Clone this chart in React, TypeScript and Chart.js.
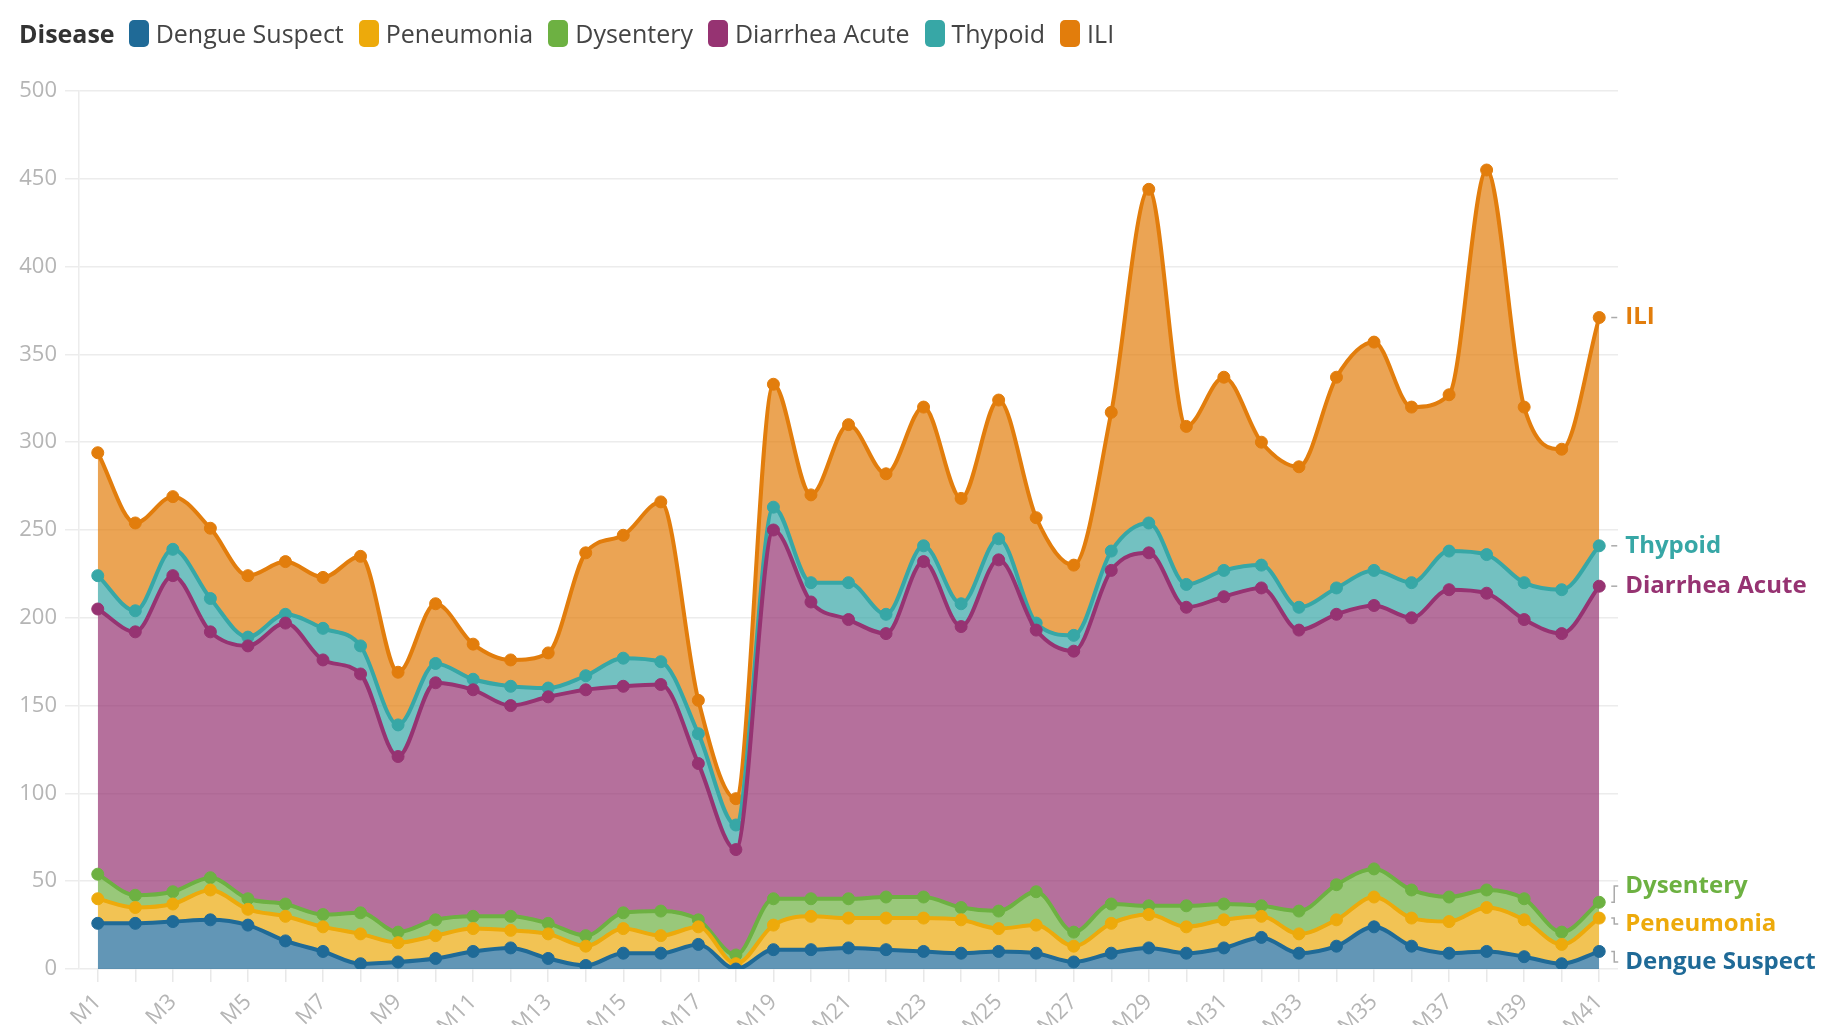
import React, { useEffect, useRef } from "react";
import { Chart, registerables } from "chart.js";

Chart.register(...registerables);

const FONT = "'Open Sans', 'Noto Sans', sans-serif";

const months = [
  "M1", "M2", "M3", "M4", "M5", "M6", "M7", "M8", "M9", "M10",
  "M11", "M12", "M13", "M14", "M15", "M16", "M17", "M18", "M19", "M20",
  "M21", "M22", "M23", "M24", "M25", "M26", "M27", "M28", "M29", "M30",
  "M31", "M32", "M33", "M34", "M35", "M36", "M37", "M38", "M39", "M40", "M41",
];

const dengueSuspect = [26, 26, 27, 28, 25, 16, 10, 3, 4, 6, 10, 12, 6, 2, 9, 9, 14, 0, 11, 11, 12, 11, 10, 9, 10, 9, 4, 9, 12, 9, 12, 18, 9, 13, 24, 13, 9, 10, 7, 3, 10];
const peneumonia = [14, 9, 10, 17, 9, 14, 14, 17, 11, 13, 13, 10, 14, 11, 14, 10, 10, 3, 14, 19, 17, 18, 19, 19, 13, 16, 9, 17, 19, 15, 16, 12, 11, 15, 17, 16, 18, 25, 21, 11, 19];
const dysentery = [14, 7, 7, 7, 6, 7, 7, 12, 6, 9, 7, 8, 6, 6, 9, 14, 4, 5, 15, 10, 11, 12, 12, 7, 10, 19, 8, 11, 5, 12, 9, 6, 13, 20, 16, 16, 14, 10, 12, 7, 9];
const diarrheaAcute = [151, 150, 180, 140, 144, 160, 145, 136, 100, 135, 129, 120, 129, 140, 129, 129, 89, 60, 210, 169, 159, 150, 191, 160, 200, 149, 160, 190, 201, 170, 175, 181, 160, 154, 150, 155, 175, 169, 159, 170, 180];
const thypoid = [19, 12, 15, 19, 5, 5, 18, 16, 18, 11, 6, 11, 5, 8, 16, 13, 17, 14, 13, 11, 21, 11, 9, 13, 12, 4, 9, 11, 17, 13, 15, 13, 13, 15, 20, 20, 22, 22, 21, 25, 23];
const ili = [70, 50, 30, 40, 35, 30, 29, 51, 30, 34, 20, 15, 20, 70, 70, 91, 19, 15, 70, 50, 90, 80, 79, 60, 79, 60, 40, 79, 190, 90, 110, 70, 80, 120, 130, 100, 89, 219, 100, 80, 130];

const seriesNames = ["Dengue Suspect", "Peneumonia", "Dysentery", "Diarrhea Acute", "Thypoid", "ILI"];
const seriesValues = [dengueSuspect, peneumonia, dysentery, diarrheaAcute, thypoid, ili];
const lineColors = ["#1F6A97", "#EDAA0B", "#6DB142", "#963372", "#37A7A6", "#E27D0C"];
const fillColors = [
  "rgba(31,106,151,0.7)",
  "rgba(237,170,11,0.7)",
  "rgba(109,177,66,0.7)",
  "rgba(150,51,114,0.7)",
  "rgba(55,167,166,0.7)",
  "rgba(226,125,12,0.7)",
];

const endLabels = {
  id: "endLabels",
  afterDatasetsDraw(chart: any) {
    const ctx = chart.ctx;
    const items = chart.data.datasets.map((ds: any, i: number) => {
      const meta = chart.getDatasetMeta(i);
      const pt = meta.data[meta.data.length - 1];
      return { i, x: pt.x, y: pt.y, ly: pt.y, text: ds.label, color: lineColors[i] };
    });
    const sorted = [...items].sort((a: any, b: any) => a.y - b.y);
    const gap = 38;
    let clusters: any[] = sorted.map((it: any) => ({ items: [it], center: it.y }));
    let merged = true;
    while (merged) {
      merged = false;
      for (let k = 0; k < clusters.length - 1; k++) {
        const a = clusters[k];
        const b = clusters[k + 1];
        const aBottom = a.center + ((a.items.length - 1) * gap) / 2;
        const bTop = b.center - ((b.items.length - 1) * gap) / 2;
        if (bTop - aBottom < gap) {
          const its = a.items.concat(b.items);
          const center = its.reduce((s: number, t: any) => s + t.y, 0) / its.length;
          clusters.splice(k, 2, { items: its, center });
          merged = true;
          break;
        }
      }
    }
    clusters.forEach((c) =>
      c.items.forEach((it: any, j: number) => {
        it.ly = c.center + (j - (c.items.length - 1) / 2) * gap;
      })
    );
    ctx.save();
    items.forEach((it: any) => {
      ctx.strokeStyle = "#aaaaaa";
      ctx.lineWidth = 1.5;
      ctx.beginPath();
      if (Math.abs(it.ly - it.y) < 3) {
        ctx.moveTo(it.x + 12, it.y);
        ctx.lineTo(it.x + 18, it.y);
      } else {
        ctx.moveTo(it.x + 12, it.y);
        ctx.lineTo(it.x + 15, it.y);
        ctx.lineTo(it.x + 15, it.ly);
        ctx.lineTo(it.x + 19, it.ly);
      }
      ctx.stroke();
      ctx.font = `bold 24px ${FONT}`;
      ctx.fillStyle = it.color;
      ctx.textAlign = "left";
      ctx.textBaseline = "middle";
      ctx.fillText(it.text, it.x + 26, it.ly);
    });
    ctx.restore();
  },
};

export default function App() {
  const canvasRef = useRef<HTMLCanvasElement | null>(null);

  useEffect(() => {
    const canvas = canvasRef.current;
    if (!canvas) return;
    const datasets = seriesNames.map((name, i) => ({
      label: name,
      data: seriesValues[i],
      borderColor: lineColors[i],
      backgroundColor: fillColors[i],
      pointBackgroundColor: lineColors[i],
      pointBorderColor: lineColors[i],
      pointRadius: 6,
      pointBorderWidth: 1,
      borderWidth: 4,
      fill: i === 0 ? "origin" : "-1",
      cubicInterpolationMode: "monotone" as const,
    }));
    const chart = new Chart(canvas, {
      type: "line",
      data: { labels: months, datasets },
      options: {
        responsive: false,
        animation: false,
        devicePixelRatio: 1,
        layout: { padding: { top: 91, right: 230, left: 0, bottom: 0 } },
        plugins: {
          legend: { display: false },
          tooltip: { enabled: false },
        },
        scales: {
          x: {
            offset: true,
            grid: {
              drawOnChartArea: false,
              drawTicks: true,
              tickLength: 13,
              color: "#e8e8e8",
              lineWidth: 1.5,
            },
            border: { display: false },
            ticks: {
              autoSkip: false,
              minRotation: 45,
              maxRotation: 45,
              padding: 7,
              color: "#b5b5b5",
              font: { family: FONT, size: 22 },
              callback: (_v: any, i: number) => (i % 2 === 0 ? months[i] : ""),
            },
            afterFit: (scale: any) => {
              scale.height = 56;
            },
          },
          y: {
            stacked: true,
            min: 0,
            max: 500,
            grid: { color: "#ececec", tickLength: 14, lineWidth: 1.5 },
            border: { display: true, color: "#ececec", width: 1.5 },
            ticks: {
              stepSize: 50,
              padding: 8,
              color: "#b5b5b5",
              font: { family: FONT, size: 22 },
            },
            afterFit: (scale: any) => {
              scale.width = 79;
            },
          },
        },
      },
      plugins: [endLabels],
    });
    return () => chart.destroy();
  }, []);

  const legendItem = (name: string, color: string) => (
    <div key={name} style={{ display: "flex", alignItems: "center", marginRight: 15 }}>
      <span
        style={{
          display: "inline-block",
          width: 20,
          height: 27,
          borderRadius: 5,
          background: color,
          marginRight: 7,
        }}
      />
      <span>{name}</span>
    </div>
  );

  return (
    <div
      style={{
        position: "fixed",
        left: 0,
        top: 0,
        width: 1848,
        height: 1025,
        background: "#ffffff",
        overflow: "hidden",
      }}
    >
      <canvas ref={canvasRef} width={1848} height={1025} style={{ position: "absolute", left: 0, top: 0 }} />
      <div
        style={{
          position: "absolute",
          left: 19,
          top: 17,
          height: 32,
          display: "flex",
          alignItems: "center",
          fontFamily: FONT,
          fontSize: 25,
          color: "#444444",
          whiteSpace: "nowrap",
        }}
      >
        <span style={{ fontWeight: 700, color: "#333333", marginRight: 14 }}>Disease</span>
        {seriesNames.map((n, i) => legendItem(n, lineColors[i]))}
      </div>
    </div>
  );
}
